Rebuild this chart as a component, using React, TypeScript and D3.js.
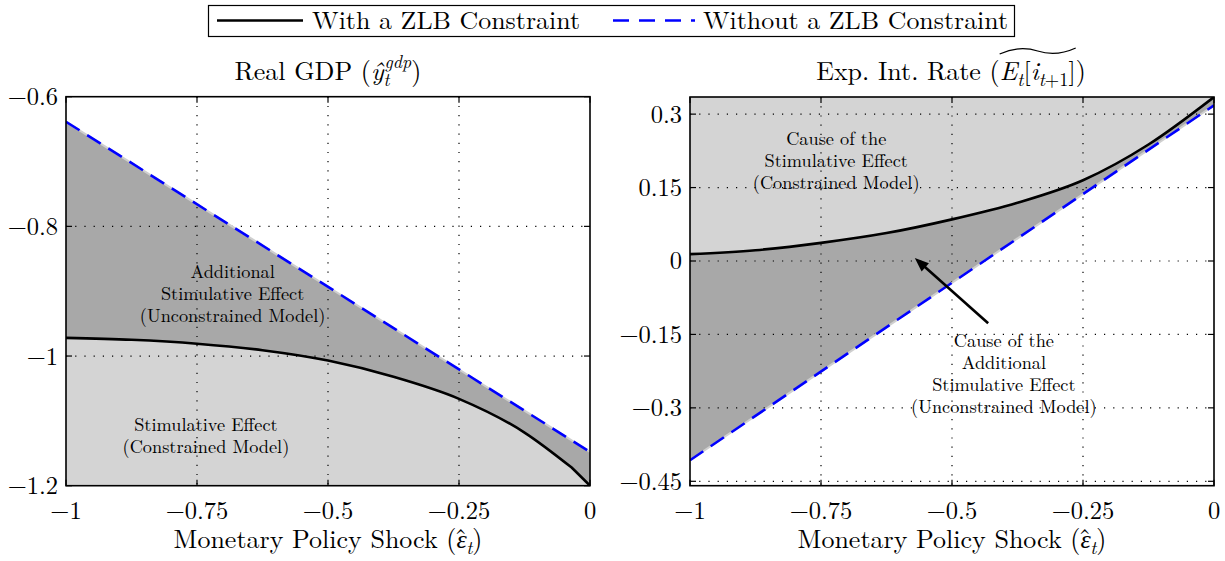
import React, { useLayoutEffect, useRef, useState } from 'react';
import * as d3 from 'd3';

// Shock sizes (x) and responses for the constrained (ZLB) and unconstrained models
const gdpShock = [-1, -0.875, -0.75, -0.625, -0.5, -0.375, -0.25, -0.125, -0.035, 0];
const gdpWithZLB = [-0.972, -0.975, -0.981, -0.991, -1.007, -1.032, -1.066, -1.118, -1.172, -1.2];
const gdpShockEnds = [-1, 0];
const gdpWithoutZLB = [-0.6386, -1.148];

const rateShock = [-1, -0.875, -0.75, -0.625, -0.5, -0.375, -0.25, -0.125, 0];
const rateWithZLB = [0.014, 0.022, 0.037, 0.057, 0.085, 0.119, 0.165, 0.238, 0.335];
const rateShockEnds = [-1, 0];
const rateWithoutZLB = [-0.407, 0.318];

const xTicks = [-1, -0.75, -0.5, -0.25, 0];
const gdpTicks = [-1.2, -1, -0.8, -0.6];
const rateTicks = [-0.45, -0.3, -0.15, 0, 0.15, 0.3];

const legendLabels = ['With a ZLB Constraint', 'Without a ZLB Constraint'];

const FONT = { fontFamily: "'Latin Modern Roman', 'Liberation Serif', serif" };
const LIGHT = '#d4d4d4';
const DARK = '#a8a8a8';
const BLUE = '#0000ff';
const fmt = d3.format('');

type Pt = [number, number];
const zip = (xs: number[], ys: number[]): Pt[] => xs.map((x, i) => [x, ys[i]]);

interface PanelProps {
  id: string;
  left: number;
  right: number;
  top: number;
  bottom: number;
  yDomain: [number, number];
  yTicks: number[];
  constrained: Pt[];
  unconstrained: Pt[];
  fillTo: 'bottom' | 'top';
  straightTail?: boolean;
  children?: (x: d3.ScaleLinear<number, number>, y: d3.ScaleLinear<number, number>) => React.ReactNode;
}

function Panel(p: PanelProps) {
  const x = d3.scaleLinear().domain([-1, 0]).range([p.left, p.right]);
  const y = d3.scaleLinear().domain(p.yDomain).range([p.bottom, p.top]);
  const base = p.fillTo === 'bottom' ? p.bottom : p.top;

  const lineCurve = d3.line<Pt>().x(d => x(d[0])).y(d => y(d[1])).curve(d3.curveMonotoneX);
  const lineStraight = d3.line<Pt>().x(d => x(d[0])).y(d => y(d[1])).curve(d3.curveLinear);

  // smooth curve through the points; optionally the last segment is a straight kink
  const smooth = p.straightTail ? p.constrained.slice(0, -1) : p.constrained;
  const last = p.constrained[p.constrained.length - 1];
  let constrainedPath = lineCurve(smooth) || '';
  if (p.straightTail) constrainedPath += `L${x(last[0])},${y(last[1])}`;
  const first = p.constrained[0];
  const constrainedArea = `${constrainedPath}L${x(last[0])},${base}L${x(first[0])},${base}Z`;
  const u0 = p.unconstrained[0];
  const u1 = p.unconstrained[p.unconstrained.length - 1];
  const unconstrainedArea = `${lineStraight(p.unconstrained)}L${x(u1[0])},${base}L${x(u0[0])},${base}Z`;

  const tickLen = 6;
  const innerX = xTicks.filter(t => t !== -1 && t !== 0);
  const innerY = p.yTicks.filter(t => Math.abs(y(t) - p.top) > 2 && Math.abs(y(t) - p.bottom) > 1);

  return (
    <g>
      <defs>
        <clipPath id={p.id}>
          <rect x={p.left} y={p.top} width={p.right - p.left} height={p.bottom - p.top} />
        </clipPath>
      </defs>
      <g clipPath={`url(#${p.id})`}>
        <path d={unconstrainedArea} fill={DARK} />
        <path d={constrainedArea} fill={LIGHT} />
        {/* dotted grid */}
        {innerX.map(t => (
          <line key={'gx' + t} x1={x(t)} x2={x(t)} y1={p.top} y2={p.bottom}
            stroke="#000" strokeWidth={1.2} strokeDasharray="1.2 8" />
        ))}
        {innerY.map(t => (
          <line key={'gy' + t} x1={p.left} x2={p.right} y1={y(t)} y2={y(t)}
            stroke="#000" strokeWidth={1.2} strokeDasharray="1.2 8" />
        ))}
        <path d={lineStraight(p.unconstrained) || ''} fill="none" stroke="#cfcfcf" strokeWidth={2} />
        <path d={lineStraight(p.unconstrained) || ''} fill="none" stroke={BLUE} strokeWidth={2.6}
          strokeDasharray="16 9" />
        <path d={constrainedPath} fill="none" stroke="#000" strokeWidth={2.6} />
      </g>
      {/* inward ticks on all four sides */}
      {xTicks.map(t => (
        <g key={'tx' + t}>
          <line x1={x(t)} x2={x(t)} y1={p.bottom} y2={p.bottom - tickLen} stroke="#000" strokeWidth={1.2} />
          <line x1={x(t)} x2={x(t)} y1={p.top} y2={p.top + tickLen} stroke="#000" strokeWidth={1.2} />
          <text x={x(t)} y={p.bottom + 33} textAnchor="middle" fontSize={24.5} style={FONT}>{fmt(t)}</text>
        </g>
      ))}
      {p.yTicks.map(t => (
        <g key={'ty' + t}>
          <line x1={p.left} x2={p.left + tickLen} y1={y(t)} y2={y(t)} stroke="#000" strokeWidth={1.2} />
          <line x1={p.right} x2={p.right - tickLen} y1={y(t)} y2={y(t)} stroke="#000" strokeWidth={1.2} />
          <text x={p.left - 8} y={y(t) + 8.5} textAnchor="end" fontSize={24.5} style={FONT}>{fmt(t)}</text>
        </g>
      ))}
      <rect x={p.left} y={p.top} width={p.right - p.left} height={p.bottom - p.top}
        fill="none" stroke="#000" strokeWidth={1.6} />
      {p.children && p.children(x, y)}
      <text x={(p.left + p.right) / 2} y={548} textAnchor="middle" fontSize={26} style={FONT}>
        Monetary Policy Shock (<tspan fontStyle="italic">{'\u03B5'}</tspan>
        <tspan dx={-12.5} dy={-1}>{'\u02C6'}</tspan>
        <tspan fontStyle="italic" fontSize={18.5} dx={-1} dy={7}>t</tspan>
        <tspan dy={-6}>)</tspan>
      </text>
    </g>
  );
}

function Note({ x, y, lines }: { x: number; y: number; lines: string[] }) {
  return (
    <text x={x} y={y} textAnchor="middle" fontSize={18.3} style={FONT}>
      {lines.map((s, i) => (
        <tspan key={i} x={x} dy={i === 0 ? 0 : 22}>{s}</tspan>
      ))}
    </text>
  );
}

function Arrow({ x1, y1, x2, y2 }: { x1: number; y1: number; x2: number; y2: number }) {
  const dx = x2 - x1, dy = y2 - y1;
  const len = Math.hypot(dx, dy);
  const ux = dx / len, uy = dy / len;
  const nx = -uy, ny = ux;
  const L = 14, w = 5.5;
  const bx = x2 - ux * L, by = y2 - uy * L;
  return (
    <g>
      <line x1={x1} y1={y1} x2={x2 - ux * L * 0.7} y2={y2 - uy * L * 0.7} stroke="#000" strokeWidth={2.6} />
      <polygon points={`${x2},${y2} ${bx + nx * w},${by + ny * w} ${bx - nx * w},${by - ny * w}`} fill="#000" />
    </g>
  );
}

export default function App() {
  const rateTitle = useRef<SVGTextElement>(null);
  const [tilde, setTilde] = useState<[number, number] | null>(null);

  useLayoutEffect(() => {
    const el = rateTitle.current;
    if (!el) return;
    const measure = () => {
      try {
        const s = el.getStartPositionOfChar(16).x;
        const e = el.getEndPositionOfChar(23).x;
        setTilde([s, e]);
      } catch (err) {
        setTilde(null);
      }
    };
    measure();
    if ((document as any).fonts && (document as any).fonts.ready) {
      (document as any).fonts.ready.then(measure);
    }
  }, []);

  const tildePath = (xs: number, xe: number, ya: number) => {
    const w = xe - xs;
    return `M ${xs} ${ya + 3} C ${xs + w * 0.2} ${ya - 4}, ${xs + w * 0.38} ${ya - 3}, ${xs + w / 2} ${ya} S ${xs + w * 0.8} ${ya + 4}, ${xe} ${ya - 3}`;
  };

  return (
    <svg width={1225} height={561} style={{ position: 'absolute', left: 0, top: 0, background: '#fff' }}>
      <rect x={0} y={0} width={1225} height={561} fill="#fff" />

      {/* legend */}
      <rect x={208.5} y={5.5} width={806} height={31} fill="#fff" stroke="#000" strokeWidth={1.2} />
      <line x1={217} x2={303} y1={20.5} y2={20.5} stroke="#000" strokeWidth={2.6} />
      <text x={312} y={29} fontSize={25} style={FONT} textLength={268} lengthAdjust="spacingAndGlyphs">{legendLabels[0]}</text>
      <line x1={613} x2={695} y1={20.5} y2={20.5} stroke={BLUE} strokeWidth={2.6} strokeDasharray="16 10" />
      <text x={703} y={29} fontSize={25} style={FONT} textLength={305} lengthAdjust="spacingAndGlyphs">{legendLabels[1]}</text>

      {/* titles */}
      <text x={328} y={80} textAnchor="middle" fontSize={26} style={FONT}>
        Real GDP (<tspan fontStyle="italic">{'\u0177'}</tspan>
        <tspan fontStyle="italic" fontSize={18} dy={6}>t</tspan>
        <tspan fontStyle="italic" fontSize={18} dx={-5} dy={-18}>gdp</tspan>
        <tspan dy={12}>)</tspan>
      </text>
      <text ref={rateTitle} x={951} y={80} textAnchor="middle" fontSize={26} style={FONT}>
        Exp. Int. Rate (<tspan fontStyle="italic">E</tspan><tspan fontStyle="italic" fontSize={18.5} dy={6}>t</tspan><tspan dy={-6}>[</tspan><tspan fontStyle="italic">i</tspan><tspan fontSize={18.5} dy={6}><tspan fontStyle="italic">t</tspan>+1</tspan><tspan dy={-6}>])</tspan>
      </text>
      {tilde && <path d={tildePath(tilde[0], tilde[1], 51)} fill="none" stroke="#000" strokeWidth={1.3} />}

      <Panel id="clipGdp" left={66} right={590} top={96.7} bottom={485.7} yDomain={[-1.2, -0.6]} yTicks={gdpTicks}
        constrained={zip(gdpShock, gdpWithZLB)} unconstrained={zip(gdpShockEnds, gdpWithoutZLB)} fillTo="bottom" straightTail>
        {(x, y) => (
          <g>
            <Note x={x(-0.682)} y={y(-0.88)} lines={['Additional', 'Stimulative Effect', '(Unconstrained Model)']} />
            <Note x={x(-0.733)} y={y(-1.116)} lines={['Stimulative Effect', '(Constrained Model)']} />
          </g>
        )}
      </Panel>

      <Panel id="clipRate" left={690} right={1214} top={97} bottom={485.7} yDomain={[-0.459, 0.335]} yTicks={rateTicks}
        constrained={zip(rateShock, rateWithZLB)} unconstrained={zip(rateShockEnds, rateWithoutZLB)} fillTo="top">
        {(x, y) => (
          <g>
            <Note x={x(-0.721)} y={y(0.236)} lines={['Cause of the', 'Stimulative Effect', '(Constrained Model)']} />
            <Note x={x(-0.401)} y={y(-0.176)} lines={['Cause of the', 'Additional', 'Stimulative Effect', '(Unconstrained Model)']} />
            <Arrow x1={x(-0.431)} y1={y(-0.127)} x2={x(-0.571)} y2={y(0.006)} />
          </g>
        )}
      </Panel>
    </svg>
  );
}
